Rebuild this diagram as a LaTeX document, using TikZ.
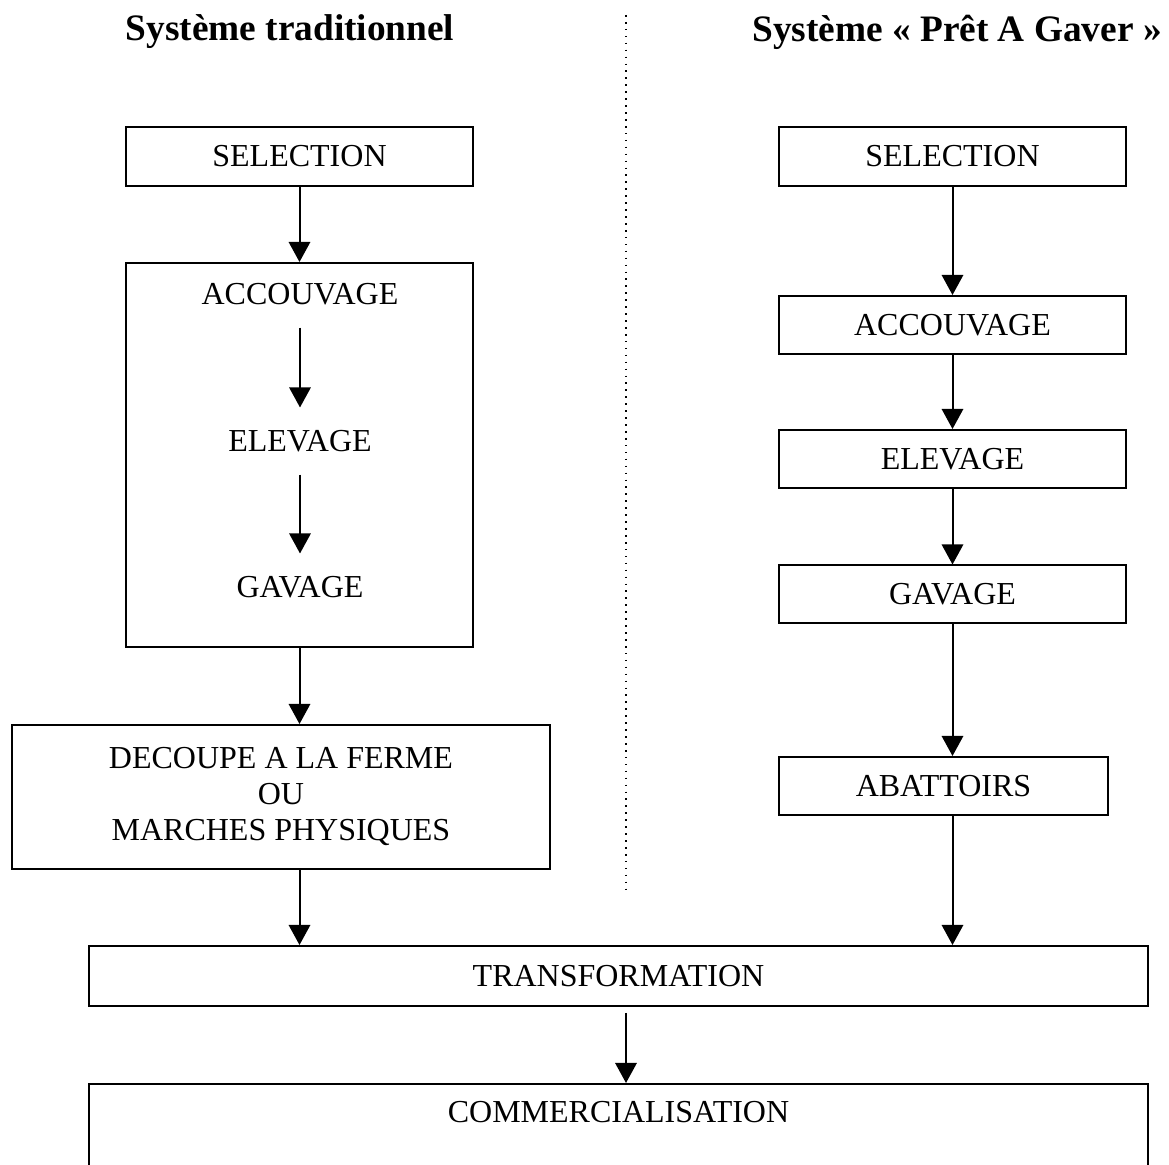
\documentclass[tikz,border=0pt]{standalone}
\usepackage{fontspec}
\setmainfont{Liberation Serif}
\usetikzlibrary{arrows.meta}
\usetikzlibrary{positioning}

\newcommand{\pix}{0.375pt}

\tikzset{
  etape/.style={draw, line width=0.75pt, minimum height=59*\pix, inner sep=0pt, align=center, font=\fontsize{12}{13.5}\selectfont},
  interne/.style={inner sep=0pt, minimum height=66*\pix, font=\fontsize{12}{13.5}\selectfont},
  fleche/.style={-{Triangle[length=7.5pt,width=8pt]}, line width=0.75pt},
  titre/.style={font=\fontsize{14}{16}\selectfont\bfseries}
}

\begin{document}
\begin{tikzpicture}[x=\pix, y=-\pix]
        \useasboundingbox (0,0) rectangle (1169,1165);
        \clip (0,0) rectangle (1169,1165);

        % Titres
        \node[titre] (titreA) at (290,32) {Système traditionnel};
        \node[titre] (titreB) at (957,32) {Système « Prêt A Gaver »};

        % Separation
        \coordinate (sepHaut) at (626,15);
        \coordinate (sepBas) at (626,895);
        \draw[dotted, line width=0.6pt] (sepHaut) -- (sepBas);

        % Systeme traditionnel
        \node[etape, minimum width=347*\pix] (selA) at (299.5,156.5) {SELECTION};
        \node[etape, minimum width=347*\pix, minimum height=384*\pix] (blocA) at (299.5,455) {};
        \node[interne] (accA) at (300,294) {ACCOUVAGE};
        \node[interne] (eleA) at (300,441) {ELEVAGE};
        \node[interne] (gavA) at (300,587) {GAVAGE};
        \node[etape, minimum width=538*\pix, minimum height=144*\pix] (decA) at (281,797) {DECOUPE A LA FERME\\OU\\MARCHES PHYSIQUES};

        \draw[fleche] (selA) -- (blocA);
        \draw[fleche] (accA) -- (eleA);
        \draw[fleche] (eleA) -- (gavA);
        \draw[fleche] (blocA.south) -- (blocA.south |- decA.north);

        % Systeme Pret A Gaver
        \node[etape, minimum width=347*\pix] (selB) at (952.5,156.5) {SELECTION};
        \node[etape, minimum width=347*\pix, minimum height=58*\pix] (accB) at (952.5,325) {ACCOUVAGE};
        \node[etape, minimum width=347*\pix, minimum height=58*\pix] (eleB) at (952.5,459) {ELEVAGE};
        \node[etape, minimum width=347*\pix, minimum height=58*\pix] (gavB) at (952.5,594.5) {GAVAGE};
        \node[etape, minimum width=329*\pix, minimum height=58*\pix] (abaB) at (943.5,786) {ABATTOIRS};

        \draw[fleche] (selB) -- (accB);
        \draw[fleche] (accB) -- (eleB);
        \draw[fleche] (eleB) -- (gavB);
        \draw[fleche] (gavB.south) -- (gavB.south |- abaB.north);

        % Partie commune
        \node[etape, minimum width=1059*\pix, minimum height=60*\pix] (trans) at (618.5,976) {TRANSFORMATION};
        \node[etape, anchor=north, minimum width=1059*\pix, minimum height=140*\pix] (comm) at (618.5,1083) {};
        \node[interne, minimum height=0pt] (commTexte) at (618.5,1112) {COMMERCIALISATION};

        \draw[fleche] (blocA.south |- decA.south) -- (blocA.south |- trans.north);
        \draw[fleche] (gavB.south |- abaB.south) -- (gavB.south |- trans.north);
        \draw[fleche, shorten <=6*\pix] ([xshift=7.5*\pix]trans.south) -- ([xshift=7.5*\pix]trans.south |- comm.north);

\end{tikzpicture}
\end{document}
